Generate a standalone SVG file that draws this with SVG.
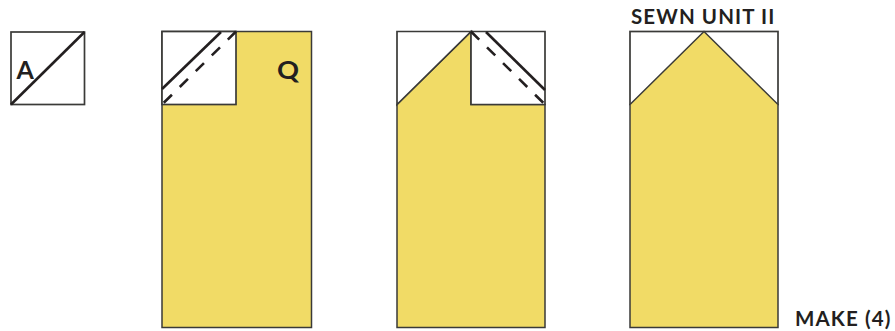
<svg xmlns="http://www.w3.org/2000/svg" width="895" height="331" viewBox="0 0 895 331">
<style>
.y{fill:#f1db66;stroke:#3a3a38;stroke-width:1.5}
.w{fill:#fff;stroke:#3a3a38;stroke-width:1.7}
.s{fill:none;stroke:#231f20;stroke-width:2.6}
.d{fill:none;stroke:#231f20;stroke-width:2.6;stroke-dasharray:11.500 11}
.t{font-family:"Lato","Open Sans",sans-serif;font-weight:700;fill:#231f20}
.b{font-size:20.500px;letter-spacing:1.100px}
.l{font-size:25px}
</style>
<rect width="895" height="331" fill="#fff"/>
<g id="unit-a">
<rect class="w" x="11" y="32" width="73.500" height="72.500"/>
<path class="s" d="M11 104.500L84.500 32"/>
<text class="t l" x="16.500" y="79">A</text>
</g>
<g id="step-1">
<rect class="y" x="162" y="31.500" width="149.500" height="296"/>
<rect class="w" x="162" y="31.500" width="74" height="73"/>
<text class="t l" x="277" y="79" textLength="22" lengthAdjust="spacingAndGlyphs">Q</text>
</g>
<g id="step-2">
<path class="y" d="M397 104.500L471 31.500V104.500H545V327.500H397Z"/>
<path class="w" d="M397 31.500H471L397 104.500Z"/>
<path class="w" d="M471 31.500H545V104.500H471Z"/>
</g>
<g id="sewn-unit">
<rect class="w" x="630" y="31.500" width="148" height="73"/>
<path class="y" d="M630 104.500L704 31.500L778 104.500V327.500H630Z"/>
<text class="t b" x="631" y="24">SEWN UNIT II</text>
<text class="t b" x="795" y="326">MAKE (4)</text>
</g>
<g id="connectors">
<path class="s" d="M162 89L221 32"/>
<path class="d" d="M236 31.500L162 104.500"/>
<path class="s" d="M486 32L545 90"/>
<path class="d" d="M471 31.500L545 104.500"/>
</g>
</svg>
